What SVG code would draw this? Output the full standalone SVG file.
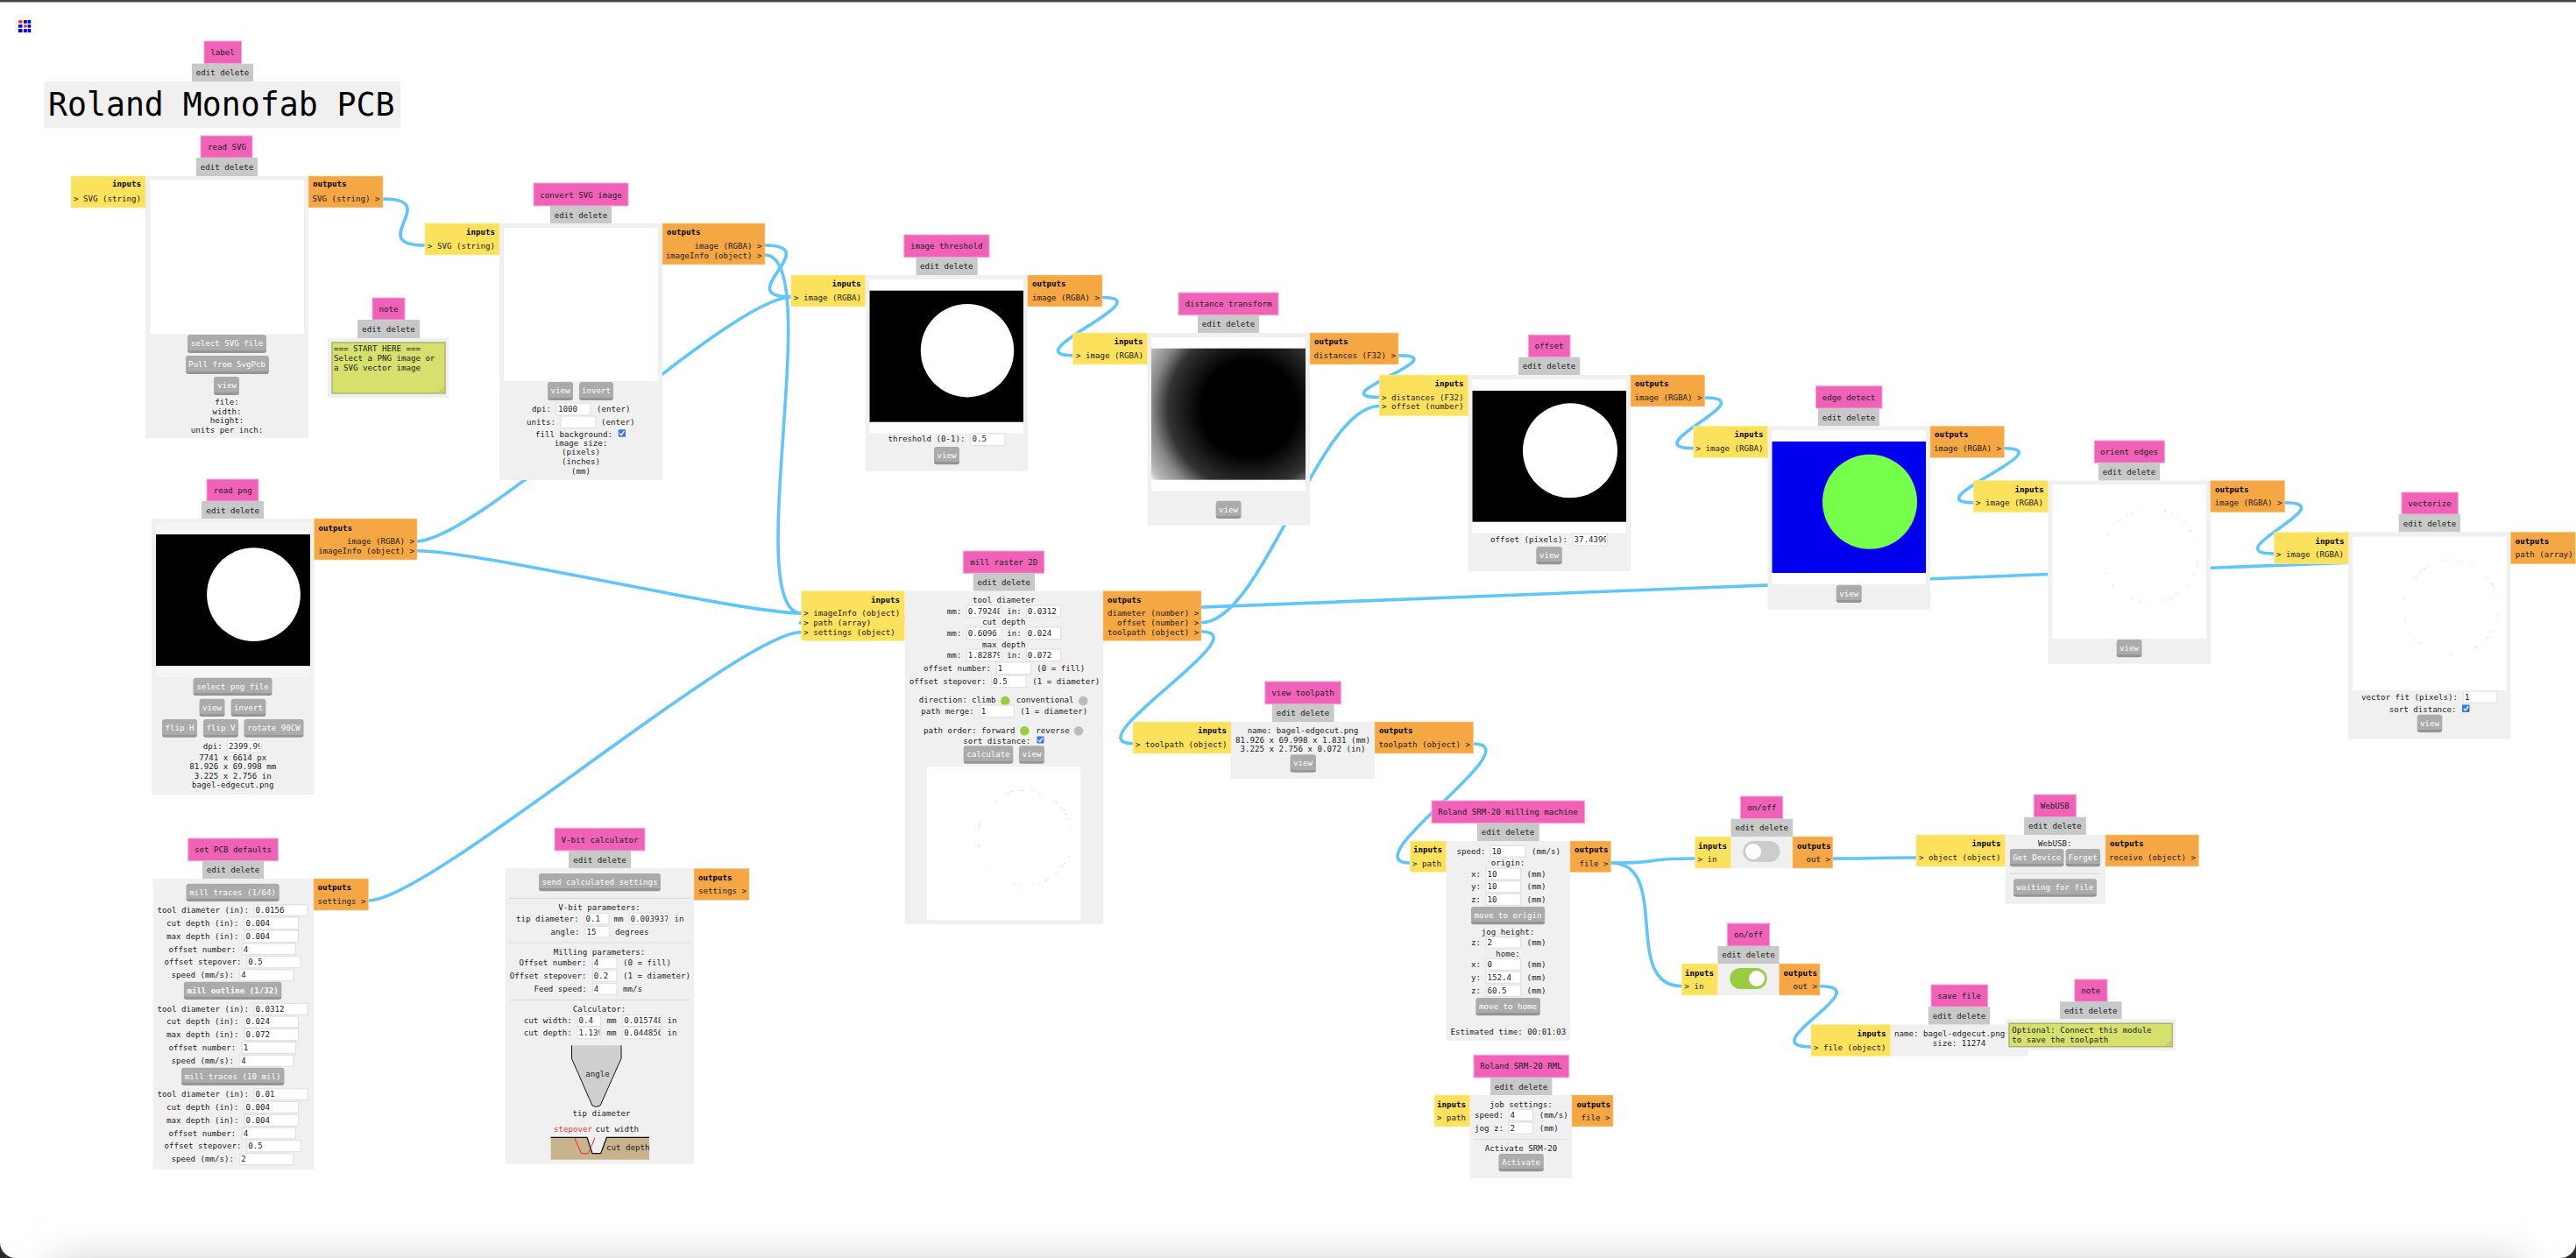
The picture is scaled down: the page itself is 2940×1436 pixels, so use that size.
<svg xmlns="http://www.w3.org/2000/svg" width="2940" height="1436" viewBox="0 0 2940 1436">
<style>
text{font-family:"DejaVu Sans Mono","Liberation Mono",monospace;font-size:9.15px;fill:#1c1c1c}
.c{text-anchor:middle}
.r{text-anchor:end}
.b{font-weight:bold;fill:#000}
.w{fill:#fff}
.ttl{fill:#ef62b8;stroke:#f6a6da;stroke-width:1}
.ed{fill:#c8c8c8}
.box{fill:#f0f0f0}
.in{fill:#fbe15c;stroke:#fdeea0;stroke-width:.6}
.out{fill:#f4a742;stroke:#f9cf96;stroke-width:.6}
.wh{fill:#fff}
.inp{fill:#fff;stroke:#e2e2e2;stroke-width:1.3}
.btn{fill:url(#bt)}
.hr{stroke:#dcdcdc;stroke-width:1.2}
.ta{fill:#d6e06d;stroke:#a9ae6d;stroke-width:1.4}
.on{fill:#99cc3f}
.off{fill:#bbb}
.wire{fill:none;stroke:#5fc6fb;stroke-width:3.6}
.rs{stroke:#8f9556;stroke-width:.7}
</style>
<defs>
<linearGradient id="bt" x1="0" y1="0" x2="0" y2="1"><stop offset="0" stop-color="#ababab"/><stop offset=".86" stop-color="#ababab"/><stop offset=".86" stop-color="#959595"/><stop offset="1" stop-color="#959595"/></linearGradient>
<radialGradient id="dist" gradientUnits="userSpaceOnUse" cx="1425.5" cy="466" r="140"><stop offset="0" stop-color="#000"/><stop offset=".39" stop-color="#000"/><stop offset=".66" stop-color="#333"/><stop offset=".79" stop-color="#888"/><stop offset=".93" stop-color="#bbb"/><stop offset="1" stop-color="#f8f8f8"/></radialGradient>
<filter id="blur" x="-5%" y="-200%" width="110%" height="500%"><feGaussianBlur stdDeviation="22"/></filter>
<symbol id="chk" viewBox="0 0 9 9"><rect width="9" height="9" rx="1" fill="#3b78e7"/><path d="M1.8 4.8 3.8 6.8 7.4 2" fill="none" stroke="#fff" stroke-width="1.5"/></symbol>
</defs>
<rect width="2940" height="1436" fill="#fff"/>
<g id="page-chrome">
<rect x="60" y="1436" width="2820" height="50" fill="#d2d2d2" filter="url(#blur)"/>
<rect width="2940" height="2.4" fill="#444"/>
<path d="M0 1418V1436H18A18 18 0 0 1 0 1418Z" fill="#2a2a2a"/>
<path d="M2940 1418V1436H2922A18 18 0 0 0 2940 1418Z" fill="#2a2a2a"/>
</g>
<g id="logo" fill="#0000ff">
<rect x="21" y="23" width="4.500" height="3.700" rx="1.800" fill="#ff2020"/><rect x="27" y="23" width="3.800" height="3.700"/><rect x="31.600" y="23" width="3.600" height="3.700"/>
<rect x="21" y="28" width="4.500" height="3.700"/><rect x="27" y="28" width="3.800" height="3.700" rx="1.800" fill="#ff2020"/><rect x="31.600" y="28" width="3.600" height="3.700"/>
<rect x="21" y="33" width="4.500" height="4"/><rect x="27" y="33" width="3.800" height="4"/><rect x="31.600" y="33" width="3.600" height="4"/>
</g>
<g id="connectors" class="wires">
<path class="wire" d="M437 227C507 227 415 280 485 280"/>
<path class="wire" d="M873 280C943 280 832.800 339 902.800 339"/>
<path class="wire" d="M873 291C943 291 844.700 700 914.700 700"/>
<path class="wire" d="M476 617.700C546 617.700 832.800 339 902.800 339"/>
<path class="wire" d="M476 628.700C546 628.700 844.700 700 914.700 700"/>
<path class="wire" d="M420.500 1028C490.500 1028 844.700 721.500 914.700 721.500"/>
<path class="wire" d="M2939 632C3009 632 844.700 711 914.700 711"/>
<path class="wire" d="M1258 339.500C1328 339.500 1154.600 405.700 1224.600 405.700"/>
<path class="wire" d="M1596 405.700C1666 405.700 1504.300 453.500 1574.300 453.500"/>
<path class="wire" d="M1371 710.700C1441 710.700 1504.300 463.500 1574.300 463.500"/>
<path class="wire" d="M1371 721C1441 721 1223 848.700 1293 848.700"/>
<path class="wire" d="M1945.700 454C2015.700 454 1862.800 511.700 1932.800 511.700"/>
<path class="wire" d="M2287.300 511.700C2357.300 511.700 2182.400 573.700 2252.400 573.700"/>
<path class="wire" d="M2607.700 573.700C2677.700 573.700 2525.500 632 2595.500 632"/>
<path class="wire" d="M1681.500 849C1751.500 849 1539.300 985 1609.300 985"/>
<path class="wire" d="M1838.600 985C1908.600 985 1864.700 980 1934.700 980"/>
<path class="wire" d="M1838.600 985C1908.600 985 1849.600 1125.700 1919.600 1125.700"/>
<path class="wire" d="M2091.800 980C2161.800 980 2117 979 2187 979"/>
<path class="wire" d="M2077 1125.700C2147 1125.700 1997 1195 2067 1195"/>
</g>

<g id="label"><rect class="ttl" x="233" y="47" width="42.500" height="25.700"/><text class="c" x="254" y="63">label</text>
<rect class="ed" x="219" y="72.700" width="70" height="20.300"/><text class="c" x="254" y="86">edit delete</text>
<rect class="box" x="51" y="93" width="406" height="53"/><text x="55" y="131.500" style="font-size:36.500px;fill:#000">Roland Monofab PCB</text></g>

<g id="read-svg"><rect class="ttl" x="229" y="155" width="59" height="25"/><text class="c" x="259" y="171">read SVG</text>
<rect class="ed" x="224" y="180" width="70" height="21"/><text class="c" x="259" y="194">edit delete</text>
<rect class="box" x="166" y="201" width="186" height="299"/><rect class="wh" x="171" y="205.700" width="176" height="175.600"/>
<rect class="in" x="81" y="201" width="85" height="36"/><text class="b r" x="161" y="213.300">inputs</text><text x="84" y="230">&gt; SVG (string)</text>
<rect class="out" x="352" y="201" width="85" height="36"/><text class="b" x="357" y="213.300">outputs</text><text class="r" x="433.500" y="230">SVG (string) &gt;</text>
<rect class="btn" x="214" y="382" width="90" height="21" rx="3"/><text class="c w" x="259" y="395">select SVG file</text>
<rect class="btn" x="212" y="406" width="95" height="21" rx="3"/><text class="c w" x="259" y="419">Pull from SvgPcb</text>
<rect class="btn" x="244" y="430" width="29" height="21" rx="3"/><text class="c w" x="259" y="443">view</text>
<text class="c" x="259" y="462">file:</text><text class="c" x="259" y="472.500">width:</text><text class="c" x="259" y="483">height:</text><text class="c" x="259" y="493.500">units per inch:</text></g>

<g id="note-start"><rect class="ttl" x="425" y="340" width="37" height="25"/><text class="c" x="443.500" y="356">note</text>
<rect class="ed" x="408" y="365" width="71" height="21"/><text class="c" x="443.500" y="379">edit delete</text>
<rect class="box" x="374" y="386" width="138" height="68"/><rect class="ta" x="379" y="391" width="129" height="58"/>
<text x="381" y="401">=== START HERE ===</text><text x="381" y="412">Select a PNG image or</text><text x="381" y="423">a SVG vector image</text>
<path class="rs" d="M501 448 507 442M504 448 507 445"/></g>

<g id="convert-svg"><rect class="ttl" x="609" y="209" width="108" height="26"/><text class="c" x="663" y="225.500">convert SVG image</text>
<rect class="ed" x="628" y="235" width="70" height="20"/><text class="c" x="663" y="248.500">edit delete</text>
<rect class="box" x="570" y="255" width="186" height="293"/><rect class="wh" x="575" y="260" width="176" height="175"/>
<rect class="in" x="485" y="255" width="85" height="36"/><text class="b r" x="565" y="268">inputs</text><text x="488" y="284">&gt; SVG (string)</text>
<rect class="out" x="756" y="255" width="117" height="47"/><text class="b" x="761" y="268">outputs</text><text class="r" x="869.500" y="284">image (RGBA) &gt;</text><text class="r" x="869.500" y="295">imageInfo (object) &gt;</text>
<rect class="btn" x="625" y="436" width="29" height="21" rx="3"/><text class="c w" x="639.500" y="449">view</text>
<rect class="btn" x="661" y="436" width="39" height="21" rx="3"/><text class="c w" x="680.500" y="449">invert</text>
<text x="607" y="470">dpi:</text><rect class="inp" x="635" y="460" width="39" height="14"/><text x="637" y="470">1000</text><text x="681" y="470">(enter)</text>
<text x="601" y="485">units:</text><rect class="inp" x="640" y="475" width="40" height="13.500"/><text x="686" y="485">(enter)</text>
<text x="611" y="499">fill background:</text><use href="#chk" x="705.500" y="490" width="8.500" height="9"/>
<text class="c" x="663" y="509">image size:</text><text class="c" x="663" y="519">(pixels)</text><text class="c" x="663" y="529.500">(inches)</text><text class="c" x="663" y="540.700">(mm)</text></g>

<g id="read-png"><rect class="ttl" x="236" y="547" width="59" height="25"/><text class="c" x="265.700" y="563">read png</text>
<rect class="ed" x="230" y="572" width="71" height="20"/><text class="c" x="265.700" y="585.500">edit delete</text>
<rect class="box" x="173" y="592" width="185.500" height="315"/><rect x="178" y="597" width="176" height="176" fill="#f5f5f5"/>
<rect x="178" y="610" width="176" height="150" fill="#000"/><circle cx="289.500" cy="678.700" r="53.400" fill="#fff"/>
<rect class="out" x="358.500" y="592" width="117.500" height="47"/><text class="b" x="363.500" y="606">outputs</text><text class="r" x="473" y="621">image (RGBA) &gt;</text><text class="r" x="473" y="632">imageInfo (object) &gt;</text>
<rect class="btn" x="220.500" y="773.700" width="90" height="20.300" rx="3"/><text class="c w" x="265.500" y="786.500">select png file</text>
<rect class="btn" x="227.500" y="797.700" width="29" height="20.300" rx="3"/><text class="c w" x="242" y="810.500">view</text>
<rect class="btn" x="263.600" y="797.700" width="39.800" height="20.300" rx="3"/><text class="c w" x="283.500" y="810.500">invert</text>
<rect class="btn" x="185" y="821" width="40" height="20.700" rx="3"/><text class="c w" x="205" y="833.500">flip H</text>
<rect class="btn" x="232" y="821" width="40" height="20.700" rx="3"/><text class="c w" x="252" y="833.500">flip V</text>
<rect class="btn" x="278.500" y="821" width="68" height="20.700" rx="3"/><text class="c w" x="312.500" y="833.500">rotate 90CW</text>
<text x="231.700" y="855">dpi:</text><rect class="inp" x="259.500" y="845" width="39" height="14"/><svg x="259.500" y="845" width="37" height="14"><text x="1.500" y="10">2399.99</text></svg>
<text class="c" x="265.700" y="868">7741 x 6614 px</text><text class="c" x="265.700" y="878">81.926 x 69.998 mm</text><text class="c" x="265.700" y="889">3.225 x 2.756 in</text><text class="c" x="265.700" y="899">bagel-edgecut.png</text></g>

<g id="set-pcb-defaults"><rect class="ttl" x="214.700" y="957" width="102.700" height="25.700"/><text class="c" x="266" y="973">set PCB defaults</text>
<rect class="ed" x="231" y="982.700" width="70" height="20.300"/><text class="c" x="266" y="996">edit delete</text>
<rect class="box" x="174.500" y="1003" width="183.500" height="332"/>
<rect class="out" x="358" y="1003" width="62.500" height="36"/><text class="b" x="362.500" y="1016">outputs</text><text x="362.500" y="1031.700">settings &gt;</text>
<rect class="btn" x="212.500" y="1008.700" width="106.200" height="20.300" rx="3"/><text class="c w" x="265.600" y="1021.500">mill traces (1/64)</text>
<rect class="btn" x="209.800" y="1120.700" width="111.600" height="20.300" rx="3"/><text class="c w" x="265.600" y="1133.500" font-weight="bold">mill outline (1/32)</text>
<rect class="btn" x="207" y="1218.700" width="117.500" height="20.300" rx="3"/><text class="c w" x="265.600" y="1231.500">mill traces (10 mil)</text>
<text x="179.500" y="1041.700">tool diameter (in):</text><rect class="inp" x="290" y="1032.700" width="61.300" height="12.700"/><text x="291.500" y="1041.700">0.0156</text>
<text x="190" y="1056.700">cut depth (in):</text><rect class="inp" x="279" y="1047" width="61.600" height="13.700"/><text x="280.500" y="1056.700">0.004</text>
<text x="190" y="1071.700">max depth (in):</text><rect class="inp" x="279" y="1062" width="61.600" height="13.700"/><text x="280.500" y="1071.700">0.004</text>
<text x="192.400" y="1086.700">offset number:</text><rect class="inp" x="276.300" y="1077" width="61.200" height="12.700"/><text x="277.800" y="1086.700">4</text>
<text x="187.500" y="1100.700">offset stepover:</text><rect class="inp" x="281.700" y="1091.700" width="61.600" height="13"/><text x="283.200" y="1100.700">0.5</text>
<text x="195.500" y="1115.700">speed (mm/s):</text><rect class="inp" x="273.700" y="1106.700" width="61.100" height="13"/><text x="275.200" y="1115.700">4</text>
<text x="179.500" y="1154.700">tool diameter (in):</text><rect class="inp" x="290" y="1145.300" width="61.300" height="13"/><text x="291.500" y="1154.700">0.0312</text>
<text x="190" y="1168.700">cut depth (in):</text><rect class="inp" x="279" y="1160" width="61.600" height="13"/><text x="280.500" y="1168.700">0.024</text>
<text x="190" y="1183.700">max depth (in):</text><rect class="inp" x="279" y="1174.300" width="61.600" height="13.400"/><text x="280.500" y="1183.700">0.072</text>
<text x="192.400" y="1198.700">offset number:</text><rect class="inp" x="276.300" y="1189.300" width="61.200" height="13"/><text x="277.800" y="1198.700">1</text>
<text x="195.500" y="1213.700">speed (mm/s):</text><rect class="inp" x="273.700" y="1204.300" width="61.100" height="13"/><text x="275.200" y="1213.700">4</text>
<text x="179.500" y="1251.700">tool diameter (in):</text><rect class="inp" x="290" y="1242.700" width="61.300" height="13"/><text x="291.500" y="1251.700">0.01</text>
<text x="190" y="1266.700">cut depth (in):</text><rect class="inp" x="279" y="1257.300" width="61.600" height="13"/><text x="280.500" y="1266.700">0.004</text>
<text x="190" y="1281.700">max depth (in):</text><rect class="inp" x="279" y="1272.300" width="61.600" height="13"/><text x="280.500" y="1281.700">0.004</text>
<text x="192.400" y="1296.700">offset number:</text><rect class="inp" x="276.300" y="1287.300" width="61.200" height="12.700"/><text x="277.800" y="1296.700">4</text>
<text x="187.500" y="1310.700">offset stepover:</text><rect class="inp" x="281.700" y="1301.700" width="61.600" height="13"/><text x="283.200" y="1310.700">0.5</text>
<text x="195.500" y="1325.700">speed (mm/s):</text><rect class="inp" x="273.700" y="1316.700" width="61.100" height="13"/><text x="275.200" y="1325.700">2</text></g>

<g id="v-bit-calculator"><rect class="ttl" x="633" y="945.300" width="103" height="25.700"/><text class="c" x="684.500" y="961.500">V-bit calculator</text>
<rect class="ed" x="649" y="971" width="71" height="20.300"/><text class="c" x="684.500" y="984.500">edit delete</text>
<rect class="box" x="576.800" y="991.300" width="215.200" height="337.400"/>
<rect class="out" x="792" y="991.300" width="63" height="36"/><text class="b" x="797" y="1005">outputs</text><text x="797" y="1020">settings &gt;</text>
<rect class="btn" x="615" y="997" width="139" height="20.300" rx="3"/><text class="c w" x="684.500" y="1009.800">send calculated settings</text>
<path class="hr" d="M581.700 1025.300H787.500M581.700 1076H787.500M581.700 1141.300H787.500"/>
<text class="c" x="684" y="1039">V-bit parameters:</text>
<text x="589" y="1051.700">tip diameter:</text><rect class="inp" x="667" y="1042.300" width="28" height="12.700"/><text x="668.500" y="1051.700">0.1</text><text x="700.400" y="1051.700">mm</text><rect class="inp" x="718" y="1042.300" width="45" height="12.700"/><svg x="718" y="1042.300" width="44" height="13"><text x="1.500" y="9.400">0.003937</text></svg><text x="769.600" y="1051.700">in</text>
<text x="628.600" y="1066.700">angle:</text><rect class="inp" x="668" y="1057.300" width="27.500" height="12.700"/><text x="669.500" y="1066.700">15</text><text x="702" y="1066.700">degrees</text>
<text class="c" x="684" y="1090">Milling parameters:</text>
<text x="592.400" y="1102">Offset number:</text><rect class="inp" x="676.300" y="1093" width="27.700" height="12.700"/><text x="677.800" y="1102">4</text><text x="711" y="1102">(0 = fill)</text>
<text x="581.700" y="1117">Offset stepover:</text><rect class="inp" x="676.300" y="1107.700" width="27.700" height="12.700"/><text x="677.800" y="1117">0.2</text><text x="711" y="1117">(1 = diameter)</text>
<text x="609.400" y="1132">Feed speed:</text><rect class="inp" x="676.300" y="1122.700" width="27.700" height="12.700"/><text x="677.800" y="1132">4</text><text x="711" y="1132">mm/s</text>
<text class="c" x="684" y="1155">Calculator:</text>
<text x="597.800" y="1168">cut width:</text><rect class="inp" x="659" y="1158.700" width="26.700" height="12.700"/><text x="660.500" y="1168">0.4</text><text x="692.400" y="1168">mm</text><rect class="inp" x="710.700" y="1158.700" width="44.300" height="12.700"/><svg x="710.700" y="1158.700" width="43" height="13"><text x="1.500" y="9.300">0.015748</text></svg><text x="761.600" y="1168">in</text>
<text x="597.800" y="1182">cut depth:</text><rect class="inp" x="659" y="1172.700" width="26.700" height="13"/><svg x="659" y="1172.700" width="25.500" height="13"><text x="1.500" y="9.300">1.139</text></svg><text x="692.400" y="1182">mm</text><rect class="inp" x="710.700" y="1172.700" width="44.300" height="13"/><svg x="710.700" y="1172.700" width="43" height="13"><text x="1.500" y="9.300">0.044856</text></svg><text x="761.600" y="1182">in</text>
<path d="M652.500 1193.300V1208.300L676 1262Q680.500 1265 685 1262L709 1208.300V1193.300Z" fill="#cfcfcf"/>
<path d="M652.500 1193.300V1208.300L676 1262Q680.500 1265 685 1262L709 1208.300V1193.300" fill="none" stroke="#111" stroke-width="1"/>
<text x="668.300" y="1229">angle</text><text x="653.600" y="1274">tip diameter</text>
<text x="632" y="1292" style="fill:#f03a2e">stepover</text><text x="679.500" y="1292">cut width</text>
<rect x="628.600" y="1298.300" width="112.400" height="25.400" fill="#c9b38c"/>
<path d="M670 1298.300 676 1316.700H685.700L692.400 1298.300Z" fill="#f0f0f0"/>
<path d="M628.600 1298.300H670L676 1316.700H685.700L692.400 1298.300H741" fill="none" stroke="#111" stroke-width="1.300"/>
<path d="M655.800 1299 663.500 1316.700H671.500L679 1299" fill="none" stroke="#ee2a1e" stroke-width="1"/>
<text x="692" y="1312.700">cut depth</text></g>

<g id="image-threshold"><rect class="ttl" x="1031.800" y="268" width="97.200" height="25.700"/><text class="c" x="1080.300" y="284">image threshold</text>
<rect class="ed" x="1045.600" y="293.700" width="70.100" height="20.300"/><text class="c" x="1080.300" y="307">edit delete</text>
<rect class="box" x="987.600" y="314" width="185.300" height="223.700"/><rect class="wh" x="992.500" y="319" width="175.500" height="175.300"/>
<rect x="992.500" y="331.700" width="175.500" height="150" fill="#000"/><circle cx="1104" cy="400.200" r="53.200" fill="#fff"/>
<rect class="in" x="902.800" y="314" width="84.800" height="36"/><text class="b r" x="982.500" y="326.700">inputs</text><text x="906" y="342.700">&gt; image (RGBA)</text>
<rect class="out" x="1172.900" y="314" width="85.100" height="36"/><text class="b" x="1178" y="326.700">outputs</text><text class="r" x="1255" y="342.700">image (RGBA) &gt;</text>
<text x="1013.500" y="504.300">threshold (0-1):</text><rect class="inp" x="1107.700" y="495" width="39.300" height="13.700"/><text x="1109.500" y="504.300">0.5</text>
<rect class="btn" x="1066" y="510" width="29" height="20.300" rx="3"/><text class="c w" x="1080.500" y="522.800">view</text></g>

<g id="distance-transform"><rect class="ttl" x="1345" y="334" width="114" height="25.700"/><text class="c" x="1402" y="350">distance transform</text>
<rect class="ed" x="1367" y="359.700" width="70" height="20.300"/><text class="c" x="1402" y="373">edit delete</text>
<rect class="box" x="1309.500" y="380" width="185.500" height="219.700"/><rect class="wh" x="1314" y="385" width="176" height="175.700"/>
<rect x="1314" y="397.700" width="176" height="150" fill="url(#dist)"/>
<rect class="in" x="1224.600" y="380" width="84.900" height="36"/><text class="b r" x="1304.500" y="392.700">inputs</text><text x="1228" y="408.700">&gt; image (RGBA)</text>
<rect class="out" x="1495" y="380" width="101" height="36"/><text class="b" x="1500" y="392.700">outputs</text><text class="r" x="1593" y="408.700">distances (F32) &gt;</text>
<rect class="btn" x="1387.600" y="571.700" width="29" height="20.300" rx="3"/><text class="c w" x="1402" y="584.500">view</text></g>

<g id="offset"><rect class="ttl" x="1744.400" y="382.300" width="47.600" height="25.400"/><text class="c" x="1768" y="398.300">offset</text>
<rect class="ed" x="1733" y="407.700" width="70.300" height="20.300"/><text class="c" x="1768" y="421">edit delete</text>
<rect class="box" x="1675.600" y="428" width="185.400" height="224"/><rect class="wh" x="1680.500" y="433" width="175.500" height="175.700"/>
<rect x="1680.500" y="446" width="175.500" height="149.700" fill="#000"/><circle cx="1792" cy="514.300" r="54" fill="#fff"/>
<rect class="in" x="1574.300" y="428" width="101.300" height="46.700"/><text class="b r" x="1670.500" y="440.700">inputs</text><text x="1577" y="456.700">&gt; distances (F32)</text><text x="1577" y="466.700">&gt; offset (number)</text>
<rect class="out" x="1861" y="428" width="84.700" height="36"/><text class="b" x="1866" y="440.700">outputs</text><text class="r" x="1942.500" y="456.700">image (RGBA) &gt;</text>
<text x="1701" y="618.700">offset (pixels):</text><rect class="inp" x="1795" y="609.300" width="39.600" height="13.700"/><svg x="1795" y="609.300" width="38" height="14"><text x="1.500" y="9.400">37.4399</text></svg>
<rect class="btn" x="1753.300" y="624" width="29.500" height="20.300" rx="3"/><text class="c w" x="1768" y="636.800">view</text></g>

<g id="edge-detect"><rect class="ttl" x="2072.500" y="440.700" width="75.500" height="25.300"/><text class="c" x="2110" y="456.700">edge detect</text>
<rect class="ed" x="2075" y="466" width="70" height="20.300"/><text class="c" x="2110" y="479.500">edit delete</text>
<rect class="box" x="2017.600" y="486.300" width="185.400" height="209.400"/><rect class="wh" x="2022.500" y="491.300" width="175.500" height="175.700"/>
<rect x="2022.500" y="504" width="175.500" height="150" fill="#0000ee"/><circle cx="2134" cy="572.800" r="54" fill="#76ff4a"/>
<rect class="in" x="1932.800" y="486.300" width="84.800" height="36"/><text class="b r" x="2012.500" y="499">inputs</text><text x="1935.500" y="515">&gt; image (RGBA)</text>
<rect class="out" x="2203" y="486.300" width="84.300" height="36"/><text class="b" x="2208" y="499">outputs</text><text class="r" x="2284" y="515">image (RGBA) &gt;</text>
<rect class="btn" x="2095.700" y="667.700" width="29" height="20.300" rx="3"/><text class="c w" x="2110.200" y="680.500">view</text></g>

<g id="orient-edges"><rect class="ttl" x="2390.200" y="503" width="80.200" height="25.300"/><text class="c" x="2430" y="519">orient edges</text>
<rect class="ed" x="2395" y="528.300" width="70" height="20.400"/><text class="c" x="2430" y="541.800">edit delete</text>
<rect class="box" x="2337.300" y="548.700" width="185.500" height="209"/><rect class="wh" x="2342.500" y="553.300" width="175.500" height="175.700"/>
<g transform="translate(2200 480) scale(.4719 .3333)"><path fill="none" stroke="#cfc8cf" stroke-width="3" d="M522 304h2M573 310h2M575 312h2M589 319h2M605 334h2M619 350h2M636 379h2M645 405h2M653 481h2M651 495h2M643 528h2M627 568h2M604 596h2M592 607h2M586 610h2M566 622h2M528 625h2M511 622h2M492 613h2M447 565h2M431 524h2M426 505h2M425 445h2M435 393h2M451 355h2M462 342h2M481 322h2M492 318h2"/></g>
<rect class="in" x="2252.400" y="548.700" width="84.900" height="36"/><text class="b r" x="2332.500" y="561.700">inputs</text><text x="2255" y="576.700">&gt; image (RGBA)</text>
<rect class="out" x="2522.800" y="548.700" width="84.900" height="36"/><text class="b" x="2528" y="561.700">outputs</text><text class="r" x="2604.500" y="576.700">image (RGBA) &gt;</text>
<rect class="btn" x="2415.700" y="730" width="28.800" height="20.300" rx="3"/><text class="c w" x="2430" y="742.800">view</text></g>

<g id="vectorize"><rect class="ttl" x="2741" y="562" width="64.300" height="25"/><text class="c" x="2773" y="578">vectorize</text>
<rect class="ed" x="2737.700" y="587" width="70.300" height="20.300"/><text class="c" x="2773" y="600.500">edit delete</text>
<rect class="box" x="2680" y="607.300" width="185.300" height="236.400"/><rect class="wh" x="2685" y="612.700" width="176" height="175.300"/>
<g transform="translate(2680 550) scale(.3333)"><path fill="none" stroke="#c4c4c4" stroke-width="3" d="M322 270h3M340 268h3M373 271h3M388 274h3M421 286h3M271 289h3M262 295h3M259 298h3M247 307h3M229 322h3M223 331h3M478 331h3M490 349h3M493 352h3M496 358h3M499 367h3M505 388h3M190 400h3M511 457h3M193 472h3M505 475h3M490 513h3M211 517h3M226 535h3M478 532h3M475 535h3M244 553h3M439 565h3M436 568h3M349 592h3M355 592h3"/></g>
<rect class="in" x="2595.500" y="607.700" width="84.900" height="35.600"/><text class="b r" x="2675.500" y="620.700">inputs</text><text x="2598" y="635.700">&gt; image (RGBA)</text>
<rect class="out" x="2865.300" y="607.300" width="74" height="36.400"/><text class="b" x="2870.700" y="620.700">outputs</text><text x="2870.700" y="635.700">path (array)</text>
<text x="2695" y="798.700">vector fit (pixels):</text><rect class="inp" x="2811.300" y="789" width="38.700" height="13.300"/><text x="2813" y="798.700">1</text>
<text x="2726.700" y="812.700">sort distance:</text><use href="#chk" x="2810" y="804.300" width="8.700" height="8.700"/>
<rect class="btn" x="2758.700" y="815.700" width="28.600" height="20.300" rx="3"/><text class="c w" x="2773" y="828.500">view</text></g>

<g id="mill-raster-2d"><rect class="ttl" x="1099.300" y="629" width="92.400" height="25.300"/><text class="c" x="1145.700" y="645">mill raster 2D</text>
<rect class="ed" x="1110.700" y="654.300" width="70.300" height="20.400"/><text class="c" x="1145.700" y="668">edit delete</text>
<rect class="box" x="1032.700" y="674.700" width="226.300" height="380.300"/>
<rect class="in" x="914.700" y="674.700" width="117.700" height="56.600"/><text class="b r" x="1027" y="687.700">inputs</text><text x="917.300" y="702.700">&gt; imageInfo (object)</text><text x="917.300" y="713.700">&gt; path (array)</text><text x="917.300" y="724.700">&gt; settings (object)</text>
<rect class="out" x="1259" y="674.700" width="112" height="56.600"/><text class="b" x="1264" y="687.700">outputs</text><text class="r" x="1368.300" y="702.700">diameter (number) &gt;</text><text class="r" x="1368.300" y="713.700">offset (number) &gt;</text><text class="r" x="1368.300" y="724.700">toolpath (object) &gt;</text>
<text class="c" x="1145.700" y="687.700">tool diameter</text>
<text x="1080.700" y="701">mm:</text><rect class="inp" x="1103.300" y="691" width="39.400" height="13.300"/><svg x="1103.300" y="691" width="37.500" height="13.300"><text x="1.500" y="10">0.79248</text></svg><text x="1149.300" y="701">in:</text><rect class="inp" x="1171.300" y="691" width="39.400" height="13.300"/><text x="1172.800" y="701">0.0312</text>
<text class="c" x="1145.700" y="712.700">cut depth</text>
<text x="1080.700" y="726">mm:</text><rect class="inp" x="1103.300" y="716" width="39.400" height="13.700"/><text x="1104.800" y="726">0.6096</text><text x="1149.300" y="726">in:</text><rect class="inp" x="1171.300" y="716" width="39.400" height="13.700"/><text x="1172.800" y="726">0.024</text>
<text class="c" x="1145.700" y="738.700">max depth</text>
<text x="1080.700" y="751">mm:</text><rect class="inp" x="1103.300" y="741" width="39.400" height="13.700"/><svg x="1103.300" y="741" width="37.500" height="13.700"><text x="1.500" y="10">1.82879</text></svg><text x="1149.300" y="751">in:</text><rect class="inp" x="1171.300" y="741" width="39.400" height="13.700"/><text x="1172.800" y="751">0.072</text>
<text x="1054" y="766">offset number:</text><rect class="inp" x="1137.300" y="756" width="39.400" height="13.700"/><text x="1138.800" y="766">1</text><text x="1183.300" y="766">(0 = fill)</text>
<text x="1037.700" y="781">offset stepover:</text><rect class="inp" x="1131.700" y="771" width="39.300" height="13.700"/><text x="1133.200" y="781">0.5</text><text x="1178.300" y="781">(1 = diameter)</text>
<text x="1048.700" y="802">direction: climb</text><circle class="on" cx="1147.300" cy="800" r="5.300"/><text x="1159.700" y="802">conventional</text><circle class="off" cx="1236.300" cy="800" r="5.300"/>
<text x="1051.300" y="815">path merge:</text><rect class="inp" x="1118.300" y="805" width="39" height="13.700"/><text x="1119.800" y="815">1</text><text x="1164.300" y="815">(1 = diameter)</text>
<text x="1054" y="837">path order: forward</text><circle class="on" cx="1169.300" cy="834.300" r="5.300"/><text x="1182.300" y="837">reverse</text><circle class="off" cx="1231" cy="834.300" r="5.300"/>
<text x="1099.300" y="849">sort distance:</text><use href="#chk" x="1183.300" y="840.300" width="8.400" height="8.400"/>
<rect class="btn" x="1099.700" y="851.300" width="56.600" height="20.400" rx="3"/><text class="c w" x="1128" y="864">calculate</text>
<rect class="btn" x="1163" y="851.300" width="29" height="20.400" rx="3"/><text class="c w" x="1177.500" y="864">view</text>
<rect class="wh" x="1058" y="875" width="175.300" height="175.300"/>
<g transform="translate(1030 620) scale(.3333)"><path fill="none" stroke="#c0c0c0" stroke-width="3" d="M360 856h3M368 852h3M376 850h3M400 847h3M411 848h3M442 847h3M469 853h3M319 880h3M523 884h3M529 889h3M542 905h3M553 915h3M558 928h3M569 946h3M577 976h3M268 949h3M261 962h3M260 971h3M259 979h3M259 1034h3M259 1039h3M289 1108h3M568 1072h3M553 1097h3M548 1104h3M544 1110h3M523 1132h3M491 1154h3M487 1156h3M463 1165h3M445 1168h3M401 1168h3M382 1165h3"/></g></g>

<g id="view-toolpath"><rect class="ttl" x="1443.800" y="778" width="86.500" height="25.700"/><text class="c" x="1487" y="794">view toolpath</text>
<rect class="ed" x="1451.800" y="803.700" width="70.800" height="20.300"/><text class="c" x="1487" y="817">edit delete</text>
<rect class="box" x="1405" y="824" width="164" height="65"/>
<rect class="in" x="1293" y="824" width="112" height="36"/><text class="b r" x="1400" y="836.700">inputs</text><text x="1296" y="852.700">&gt; toolpath (object)</text>
<rect class="out" x="1569" y="824" width="112.500" height="36"/><text class="b" x="1574" y="836.700">outputs</text><text class="r" x="1678" y="852.700">toolpath (object) &gt;</text>
<text class="c" x="1487" y="836.700">name: bagel-edgecut.png</text><text class="c" x="1487" y="847.700">81.926 x 69.998 x 1.831 (mm)</text><text class="c" x="1487" y="857.700">3.225 x 2.756 x 0.072 (in)</text>
<rect class="btn" x="1472.500" y="861.300" width="29.500" height="20.400" rx="3"/><text class="c w" x="1487" y="874">view</text></g>

<g id="roland-srm-20-milling-machine"><rect class="ttl" x="1634" y="914" width="174.600" height="25.700"/><text class="c" x="1721" y="930">Roland SRM-20 milling machine</text>
<rect class="ed" x="1686" y="939.700" width="70.800" height="20.300"/><text class="c" x="1721" y="953">edit delete</text>
<rect class="box" x="1650.400" y="960" width="141.600" height="228"/>
<rect class="in" x="1609.300" y="960" width="41.100" height="35.700"/><text class="b r" x="1646" y="972.700">inputs</text><text x="1612" y="988.700">&gt; path</text>
<rect class="out" x="1792" y="960" width="46.600" height="35.700"/><text class="b" x="1797" y="972.700">outputs</text><text class="r" x="1835.500" y="988.700">file &gt;</text>
<text x="1662.500" y="974.700">speed:</text><rect class="inp" x="1701" y="965.300" width="39.700" height="13"/><text x="1702.500" y="974.700">10</text><text x="1748" y="974.700">(mm/s)</text>
<text class="c" x="1721" y="988">origin:</text>
<text x="1679" y="1000.700">x:</text><rect class="inp" x="1696" y="991" width="39.700" height="13"/><text x="1697.500" y="1000.700">10</text><text x="1742.500" y="1000.700">(mm)</text>
<text x="1679" y="1015">y:</text><rect class="inp" x="1696" y="1005.700" width="39.700" height="13"/><text x="1697.500" y="1015">10</text><text x="1742.500" y="1015">(mm)</text>
<text x="1679" y="1029.700">z:</text><rect class="inp" x="1696" y="1020.300" width="39.700" height="13"/><text x="1697.500" y="1029.700">10</text><text x="1742.500" y="1029.700">(mm)</text>
<rect class="btn" x="1679" y="1035" width="84.200" height="20.300" rx="3"/><text class="c w" x="1721" y="1047.800">move to origin</text>
<text class="c" x="1721" y="1066.700">jog height:</text>
<text x="1679" y="1078.700">z:</text><rect class="inp" x="1696" y="1069.300" width="39.700" height="13"/><text x="1697.500" y="1078.700">2</text><text x="1742.500" y="1078.700">(mm)</text>
<text class="c" x="1721" y="1091.700">home:</text>
<text x="1679" y="1103.700">x:</text><rect class="inp" x="1696" y="1094.300" width="39.700" height="13"/><text x="1697.500" y="1103.700">0</text><text x="1742.500" y="1103.700">(mm)</text>
<text x="1679" y="1118.700">y:</text><rect class="inp" x="1696" y="1109.300" width="39.700" height="13"/><text x="1697.500" y="1118.700">152.4</text><text x="1742.500" y="1118.700">(mm)</text>
<text x="1679" y="1133.700">z:</text><rect class="inp" x="1696" y="1124.300" width="39.700" height="13"/><text x="1697.500" y="1133.700">60.5</text><text x="1742.500" y="1133.700">(mm)</text>
<rect class="btn" x="1684.300" y="1139" width="73.600" height="20.300" rx="3"/><text class="c w" x="1721" y="1151.800">move to home</text>
<text x="1655.400" y="1180.700">Estimated time: 00:01:03</text></g>

<g id="roland-srm-20-rml"><rect class="ttl" x="1682" y="1204.300" width="108.700" height="25.700"/><text class="c" x="1736" y="1220.300">Roland SRM-20 RML</text>
<rect class="ed" x="1701" y="1230" width="70.400" height="20"/><text class="c" x="1736" y="1243.500">edit delete</text>
<rect class="box" x="1677.500" y="1250" width="116.500" height="95"/>
<rect class="in" x="1637" y="1250" width="40.500" height="36"/><text class="b r" x="1673" y="1263.700">inputs</text><text x="1640" y="1278.700">&gt; path</text>
<rect class="out" x="1794" y="1250" width="47" height="36"/><text class="b" x="1799.500" y="1263.700">outputs</text><text class="r" x="1837.500" y="1278.700">file &gt;</text>
<text class="c" x="1736" y="1263.700">job settings:</text>
<text x="1683" y="1275.700">speed:</text><rect class="inp" x="1722" y="1266.300" width="27.600" height="13"/><text x="1723.500" y="1275.700">4</text><text x="1756.800" y="1275.700">(mm/s)</text>
<text x="1683" y="1290.700">jog z:</text><rect class="inp" x="1722" y="1281" width="27.600" height="13.300"/><text x="1723.500" y="1290.700">2</text><text x="1756.800" y="1290.700">(mm)</text>
<path class="hr" d="M1682.500 1300.300H1789.300"/>
<text class="c" x="1736" y="1313.700">Activate SRM-20</text>
<rect class="btn" x="1710.400" y="1317" width="51.400" height="20.300" rx="3"/><text class="c w" x="1736" y="1329.800">Activate</text></g>

<g id="on-off-top"><rect class="ttl" x="1986.500" y="909" width="48.200" height="25.700"/><text class="c" x="2010.700" y="925">on/off</text>
<rect class="ed" x="1975.500" y="934.700" width="70.500" height="20.300"/><text class="c" x="2010.700" y="948">edit delete</text>
<rect class="box" x="1975.500" y="955" width="70.500" height="36"/>
<rect class="in" x="1934.700" y="955" width="40.800" height="36"/><text class="b r" x="1971" y="968.700">inputs</text><text x="1937.500" y="983.700">&gt; in</text>
<rect class="out" x="2046" y="955" width="45.800" height="36"/><text class="b" x="2051" y="968.700">outputs</text><text class="r" x="2089" y="983.700">out &gt;</text>
<rect x="1989.400" y="960" width="42" height="24" rx="12" fill="#ccc"/><circle cx="2001" cy="972" r="9" fill="#fff"/></g>

<g id="webusb"><rect class="ttl" x="2321.200" y="907" width="48.200" height="25.700"/><text class="c" x="2345.300" y="923">WebUSB</text>
<rect class="ed" x="2310.200" y="932.700" width="70.600" height="20.300"/><text class="c" x="2345.300" y="946">edit delete</text>
<rect class="box" x="2288.600" y="953" width="114.300" height="78.700"/>
<rect class="in" x="2187" y="953" width="101.600" height="36"/><text class="b r" x="2283.500" y="965.700">inputs</text><text x="2190" y="981.700">&gt; object (object)</text>
<rect class="out" x="2403" y="953" width="106.400" height="36"/><text class="b" x="2408" y="965.700">outputs</text><text class="r" x="2506" y="981.700">receive (object) &gt;</text>
<text class="c" x="2345.300" y="965.700">WebUSB:</text>
<rect class="btn" x="2293.900" y="969" width="61.600" height="20.300" rx="3"/><text class="c w" x="2324.700" y="981.800">Get Device</text>
<rect class="btn" x="2357.600" y="969" width="39.400" height="20.300" rx="3"/><text class="c w" x="2377.300" y="981.800">Forget</text>
<path class="hr" d="M2293 997.300H2398"/>
<rect class="btn" x="2298" y="1003.300" width="95" height="20.400" rx="3"/><text class="c w" x="2345.500" y="1016">waiting for file</text></g>

<g id="on-off-bottom"><rect class="ttl" x="1971.400" y="1054" width="48.200" height="26"/><text class="c" x="1995.500" y="1070.300">on/off</text>
<rect class="ed" x="1960.400" y="1080" width="70.200" height="20"/><text class="c" x="1995.500" y="1093">edit delete</text>
<rect class="box" x="1960.400" y="1100" width="70.200" height="36"/>
<rect class="in" x="1919.600" y="1100" width="40.800" height="36"/><text class="b r" x="1956" y="1113.700">inputs</text><text x="1922.500" y="1128.700">&gt; in</text>
<rect class="out" x="2030.600" y="1100" width="46.400" height="36"/><text class="b" x="2035.500" y="1113.700">outputs</text><text class="r" x="2074" y="1128.700">out &gt;</text>
<rect x="1974.300" y="1105" width="42.400" height="24" rx="12" fill="#99cc3f"/><circle cx="2005" cy="1117" r="9" fill="#fff"/></g>

<g id="save-file"><rect class="ttl" x="2204" y="1124" width="64.600" height="25.300"/><text class="c" x="2236" y="1140">save file</text>
<rect class="ed" x="2200.800" y="1149.300" width="70.200" height="20.400"/><text class="c" x="2236" y="1163">edit delete</text>
<rect class="box" x="2157.600" y="1169.700" width="157.400" height="36"/>
<rect class="in" x="2067" y="1169.700" width="90.600" height="36"/><text class="b r" x="2152.500" y="1182.700">inputs</text><text x="2070" y="1198.700">&gt; file (object)</text>
<text x="2162" y="1182.700">name: bagel-edgecut.png</text><text class="c" x="2236" y="1193.700">size: 11274</text></g>

<g id="note-save"><rect class="ttl" x="2367.800" y="1118" width="37.200" height="25.300"/><text class="c" x="2386.300" y="1134">note</text>
<rect class="ed" x="2351" y="1143.300" width="70.600" height="20"/><text class="c" x="2386.300" y="1156.500">edit delete</text>
<rect class="box" x="2289" y="1163.300" width="194.300" height="35.700"/><rect class="ta" x="2293" y="1168.300" width="186.200" height="26.400"/>
<text x="2296.300" y="1178.700">Optional: Connect this module</text><text x="2296.300" y="1190">to save the toolpath</text>
<path class="rs" d="M2472 1194 2478 1188M2475 1194 2478 1191"/></g>
</svg>
